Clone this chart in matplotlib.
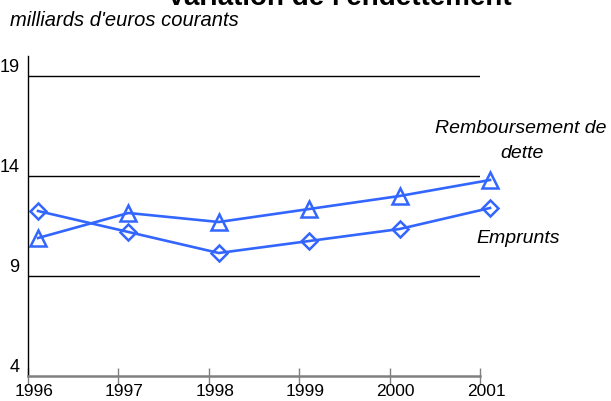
import matplotlib
matplotlib.use('Agg')
import matplotlib.pyplot as plt
import matplotlib.transforms as mtransforms

plt.rcParams['font.family'] = ['Liberation Sans', 'DejaVu Sans']

years = [1996, 1997, 1998, 1999, 2000, 2001]
remboursement = [10.9, 12.15, 11.7, 12.35, 13.0, 13.8]
emprunts = [12.25, 11.2, 10.15, 10.75, 11.35, 12.4]
yticks = [4, 9, 14, 19]

blue = '#3366ff'

fig = plt.figure(figsize=(6.11, 4.01), dpi=100)
ax = fig.add_axes([28/611, 25/401, (480-28)/611, (376-56)/401])

# points sit a little right of the year ticks in the original
shift = mtransforms.offset_copy(ax.transData, fig=fig, x=10, y=0, units='dots')

ax.plot(years, remboursement, color=blue, lw=1.9, marker='^', ms=11,
        mfc='none', mec=blue, mew=1.8, transform=shift, clip_on=False)
ax.plot(years, emprunts, color=blue, lw=1.9, marker='D', ms=8,
        mfc='none', mec=blue, mew=1.8, transform=shift, clip_on=False)

ax.set_xlim(1996, 2001)
ax.set_ylim(4, 20)

for v in yticks[1:]:
    ax.axhline(v, color='black', lw=1, zorder=0)

ax.set_yticks(yticks)
ax.set_yticklabels([str(v) for v in yticks], fontsize=13)
for lab in ax.get_yticklabels():
    lab.set_va('bottom')
ax.tick_params(axis='y', length=0, pad=6)

ax.set_xticks(years)
ax.set_xticklabels([str(y) for y in years], fontsize=12.5)
ax.tick_params(axis='x', direction='inout', length=12, width=1,
               color='#808080', pad=0)
lab_shift = mtransforms.ScaledTranslation(6/100, 0, fig.dpi_scale_trans)
for lab in ax.get_xticklabels():
    lab.set_transform(lab.get_transform() + lab_shift)

for s in ['top', 'right']:
    ax.spines[s].set_visible(False)
ax.spines['bottom'].set_color('#808080')
ax.spines['bottom'].set_linewidth(1.8)
ax.spines['left'].set_color('black')
ax.spines['left'].set_linewidth(1)

fig.text(339/611, 1 - 5/401, "Variation de l'endettement", fontsize=20,
         fontweight='bold', ha='center', va='baseline')
fig.text(10/611, 1 - 26/401, "milliards d'euros courants", fontsize=14.5,
         style='italic', ha='left', va='baseline')

fig.text(521/611, 1 - 133/401, "Remboursement de", fontsize=14,
         style='italic', ha='center', va='baseline')
fig.text(522/611, 1 - 158/401, "dette", fontsize=14,
         style='italic', ha='center', va='baseline')
fig.text(518/611, 1 - 243/401, "Emprunts", fontsize=14,
         style='italic', ha='center', va='baseline')

fig.savefig('out.png', dpi=100)
